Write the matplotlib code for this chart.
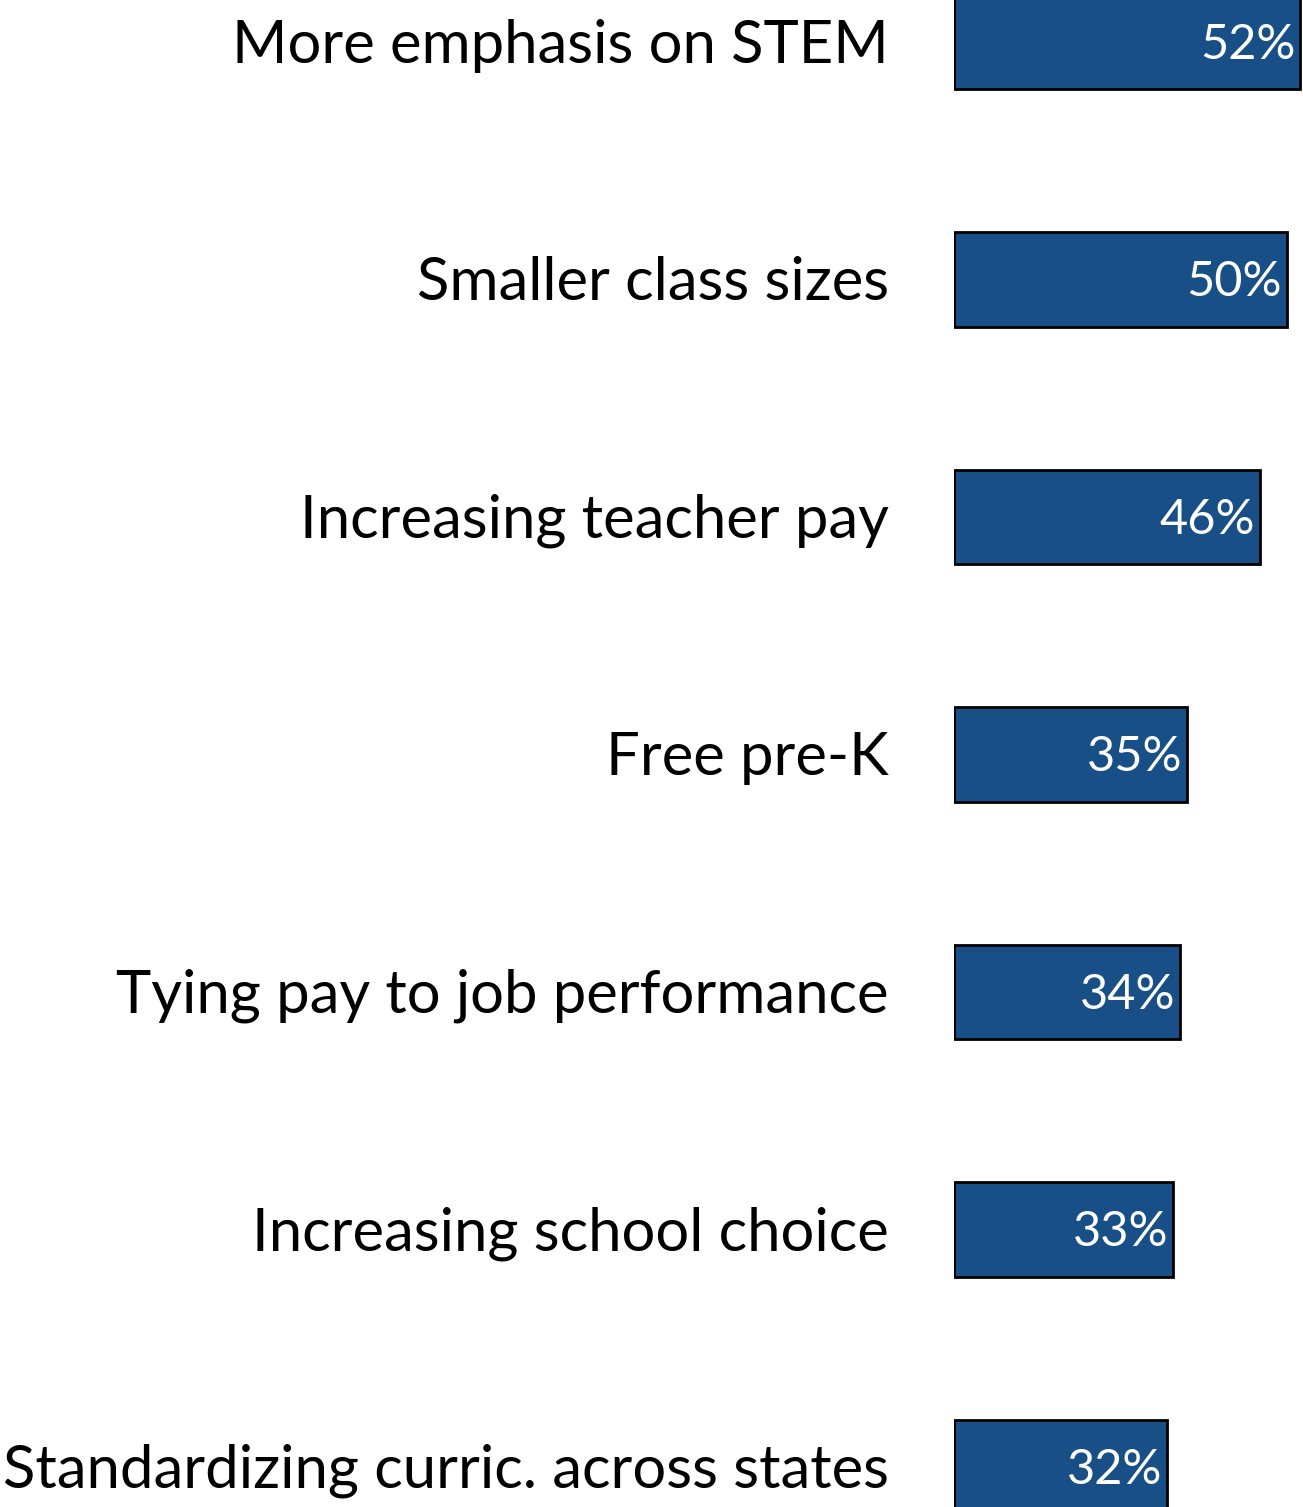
import matplotlib
matplotlib.use("Agg")
import matplotlib.pyplot as plt

# survey items, top to bottom
items = [
    "More emphasis on STEM",
    "Smaller class sizes",
    "Increasing teacher pay",
    "Free pre-K",
    "Tying pay to job performance",
    "Increasing school choice",
    "Standardizing curric. across states",
]
values = [52, 50, 46, 35, 34, 33, 32]

bar_color = "#174f86"
px_per_pct = 6.65  # horizontal scale

plt.rcParams["font.family"] = ["Lato", "DejaVu Sans"]

W, H = 1303, 1507
fig = plt.figure(figsize=(W / 100, H / 100), dpi=100)
left = 954
ax = fig.add_axes([left / W, 0, (W - left) / W, 1])

pos = list(range(len(items)))
ax.barh(pos, values, height=0.396, color=bar_color, edgecolor="black", linewidth=2)

ax.set_xlim(0, (W - left) / px_per_pct)
ax.set_ylim((H - 42) / 237.5, -42 / 237.5)

label_x = -(left - 889) / px_per_pct
for i, (name, v) in enumerate(zip(items, values)):
    ax.text(label_x, i - 0.005, name, ha="right", va="center_baseline", fontsize=43,
            color="black", clip_on=False)
    ax.text(v - 0.7, i - 0.005, f"{v}%", ha="right", va="center_baseline", fontsize=35,
            color="white")

ax.axis("off")
fig.savefig("out.png", dpi=100)
